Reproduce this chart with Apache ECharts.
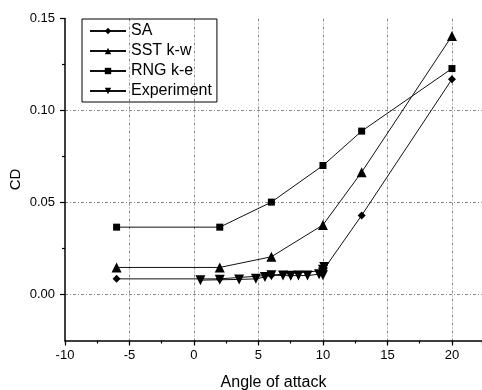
<!DOCTYPE html>
<html><head><meta charset="utf-8">
<script src="https://cdn.jsdelivr.net/npm/echarts@6/dist/echarts.min.js"></script>
<style>html,body{margin:0;padding:0;background:#fff}#c{width:482px;height:390px}</style>
</head><body><div id="c"></div>
<script>
// Data
const saX  = [-6, 2, 6, 10, 13, 20];
const saY  = [0.0085, 0.0085, 0.0105, 0.013, 0.043, 0.117];
const sstX = [-6, 2, 6, 10, 13, 20];
const sstY = [0.0147, 0.0147, 0.0205, 0.0378, 0.0665, 0.1405];
const rngX = [-6, 2, 6, 10, 13, 20];
const rngY = [0.0366, 0.0366, 0.0502, 0.0701, 0.0888, 0.1228];
const expX = [0.5, 2, 3.5, 4.8, 5.5, 6, 6.9, 7.5, 8.1, 8.8, 9.7, 10, 10, 10, 10.1];
const expY = [0.0078, 0.008, 0.0082, 0.0085, 0.0095, 0.0105, 0.0103, 0.0102, 0.0103, 0.0103, 0.011, 0.0105, 0.012, 0.0135, 0.015];
const seriesNames = ['SA', 'SST k-w', 'RNG k-e', 'Experiment'];
const xTicks = [-10, -5, 0, 5, 10, 15, 20];
const yTicks = [0.00, 0.05, 0.10, 0.15];

const zip = (xs, ys) => xs.map((x, i) => [x, ys[i]]);
const FONT = 'Liberation Sans, Arial, sans-serif';
const gridLine = { show: true, lineStyle: { color: '#8a8a8a', width: 1, type: [3, 2, 1, 2] } };

const chart = echarts.init(document.getElementById('c'), null, { renderer: 'canvas' });
const gridLeft = 65, gridTop = 18.5, gridH = 322, gridW = 417;
const yMin = -0.025, yMax = 0.15;
const xMin = -10, xMax = 22.33;

function lineSeries(name, data, symbol, size, rotate) {
  return {
    name, type: 'line', data, xAxisIndex: 0, yAxisIndex: 0,
    symbol, symbolSize: size, symbolRotate: rotate || 0,
    showAllSymbol: true,
    lineStyle: { color: '#111', width: 1 },
    itemStyle: { color: '#000' },
    emphasis: { disabled: true },
    animation: false, z: 3
  };
}
const tickStyle = { color: '#000', width: 1.2 };

chart.setOption({
  animation: false,
  textStyle: { fontFamily: FONT },
  grid: [
    { left: gridLeft, top: gridTop, width: gridW, height: gridH, outerBoundsMode: 'none', containLabel: false },
    { left: gridLeft, top: gridTop, width: gridW, height: gridH * yMax / (yMax - yMin), outerBoundsMode: 'none', containLabel: false }
  ],
  xAxis: [
    {
      gridIndex: 0, type: 'value', position: 'bottom', min: xMin, max: xMax, interval: 5,
      name: 'Angle of attack', nameLocation: 'middle', nameGap: 34,
      nameTextStyle: { fontSize: 16, color: '#000', fontFamily: FONT },
      axisLine: { show: true, onZero: false, lineStyle: { color: '#000', width: 1.5 } },
      axisTick: { show: true, length: 5, lineStyle: tickStyle },
      axisLabel: { fontSize: 13, color: '#000', margin: 8, fontFamily: FONT,
        formatter: v => (xTicks.includes(v) ? String(v) : '') },
      splitLine: Object.assign({ showMinLine: false, showMaxLine: false }, gridLine)
    },
    {
      gridIndex: 0, type: 'value', position: 'bottom', offset: 0, min: xMin, max: xMax, interval: 2.5,
      axisLine: { show: false, onZero: false },
      axisTick: { show: true, length: 3, lineStyle: tickStyle },
      axisLabel: { show: false }, splitLine: { show: false }
    },
    { gridIndex: 1, type: 'value', min: xMin, max: xMax, show: false }
  ],
  yAxis: [
    {
      gridIndex: 0, type: 'value', min: yMin, max: yMax, interval: 0.025,
      name: 'CD', nameLocation: 'middle', nameGap: 42,
      nameTextStyle: { fontSize: 15, color: '#000', fontFamily: FONT },
      axisLine: { show: true, onZero: false, lineStyle: { color: '#000', width: 1.5 } },
      axisTick: { show: false }, axisLabel: { show: false }, splitLine: { show: false }
    },
    {
      gridIndex: 1, type: 'value', position: 'left', min: 0, max: yMax, interval: 0.05,
      axisLine: { show: false, onZero: false },
      axisTick: { show: true, length: 5, lineStyle: tickStyle },
      minorTick: { show: true, splitNumber: 2, length: 3, lineStyle: tickStyle },
      axisLabel: { fontSize: 13, color: '#000', margin: 10, fontFamily: FONT,
        formatter: v => yTicks.some(t => Math.abs(t - v) < 1e-9) ? v.toFixed(2) : '' },
      splitLine: Object.assign({ showMinLine: true, showMaxLine: false }, gridLine)
    }
  ],
  legend: {
    orient: 'vertical', left: 82, top: 19,
    data: seriesNames,
    itemWidth: 36, itemHeight: 8, itemGap: 4,
    padding: [4, 5, 3, 7],
    borderColor: '#000', borderWidth: 1,
    textStyle: { fontSize: 16, color: '#000', fontFamily: FONT, lineHeight: 16 },
    selectedMode: false
  },
  series: [
    lineSeries(seriesNames[0], zip(saX, saY), 'diamond', 8),
    lineSeries(seriesNames[1], zip(sstX, sstY), 'triangle', 10),
    lineSeries(seriesNames[2], zip(rngX, rngY), 'rect', 7),
    lineSeries(seriesNames[3], zip(expX, expY), 'triangle', 10, 180)
  ]
});
</script></body></html>
